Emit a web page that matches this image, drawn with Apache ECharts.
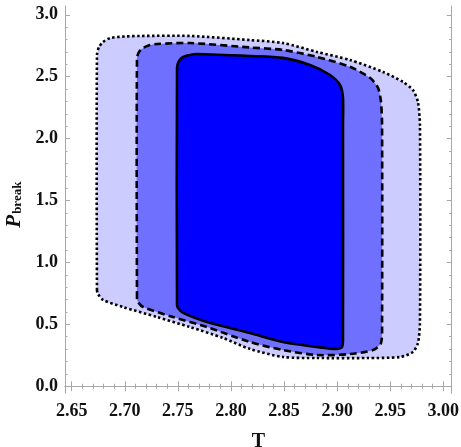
<!DOCTYPE html>
<html>
<head>
<meta charset="utf-8">
<script src="https://cdn.jsdelivr.net/npm/echarts@6/dist/echarts.min.js"></script>
<style>
  html, body { margin: 0; padding: 0; background: #fff; }
  #chart { width: 461px; height: 447px; }
</style>
</head>
<body>
<div id="chart"></div>
<script>
// contour regions (T, P_break)
const outerRegion = [
  [2.6738, 0.777], [2.6738, 2.675], [2.6757, 2.740], [2.6795, 2.780], [2.6861, 2.812],
  [2.7002, 2.825], [2.7143, 2.829], [2.7614, 2.829], [2.8179, 2.796], [2.8490, 2.772],
  [2.8810, 2.700], [2.9121, 2.635], [2.9432, 2.538], [2.9620, 2.458], [2.9714, 2.392],
  [2.9761, 2.296], [2.9780, 2.110], [2.9780, 0.511], [2.9761, 0.349], [2.9714, 0.277],
  [2.9592, 0.236], [2.9281, 0.228], [2.8810, 0.228], [2.8490, 0.236], [2.8179, 0.301],
  [2.7925, 0.390], [2.7614, 0.478], [2.7303, 0.559], [2.6983, 0.640], [2.6795, 0.697],
  [2.6748, 0.745]
];
const middleRegion = [
  [2.7115, 0.713], [2.7115, 2.651], [2.7134, 2.700], [2.7172, 2.732], [2.7237, 2.756],
  [2.7303, 2.764], [2.7614, 2.772], [2.8179, 2.736], [2.8490, 2.716], [2.8810, 2.660],
  [2.9121, 2.580], [2.9309, 2.491], [2.9385, 2.410], [2.9413, 2.296], [2.9423, 2.110],
  [2.9423, 0.511], [2.9413, 0.349], [2.9338, 0.292], [2.9121, 0.260], [2.8810, 0.252],
  [2.8490, 0.292], [2.8179, 0.357], [2.7774, 0.478], [2.7454, 0.559], [2.7172, 0.640],
  [2.7124, 0.680]
];
const innerRegion = [
  [2.7492, 0.656], [2.7492, 2.570], [2.7511, 2.627], [2.7549, 2.659], [2.7614, 2.675],
  [2.7680, 2.683], [2.8179, 2.667], [2.8490, 2.652], [2.8744, 2.595], [2.8933, 2.514],
  [2.9027, 2.433], [2.9055, 2.328], [2.9055, 2.110], [2.9055, 0.373], [2.9046, 0.317],
  [2.8999, 0.301], [2.8810, 0.317], [2.8490, 0.357], [2.8179, 0.430], [2.7774, 0.519],
  [2.7549, 0.592], [2.7501, 0.632]
];

const xTicks = [2.65, 2.70, 2.75, 2.80, 2.85, 2.90, 2.95, 3.00];
const yTicks = [0.0, 0.5, 1.0, 1.5, 2.0, 2.5, 3.0];
const xRange = [2.6437, 3.0079];
const yRange = [-0.057, 3.071];

// minor ticks: 4 between each pair of majors
function minorTicks(major, lo, hi) {
  const step = (major[1] - major[0]) / 5;
  const out = [];
  for (let v = major[0] - step * 5; v <= hi + 1e-9; v += step) {
    const r = Math.round(v * 1000) / 1000;
    if (r >= lo && r <= hi && !major.some((m) => Math.abs(m - r) < 1e-6)) out.push(r);
  }
  return out;
}
const xMinor = minorTicks(xTicks, xRange[0], xRange[1]);
const yMinor = minorTicks(yTicks, yRange[0], yRange[1]);

const frameColor = "#a8a8a8";
const labelFont = {
  fontFamily: "Liberation Serif",
  fontWeight: "bold",
  fontSize: 18,
  color: "#111",
};

function axisPair(kind, position, range, major, minor, withLabels, extra) {
  const common = { type: "value", position: position, min: range[0], max: range[1], splitLine: { show: false } };
  const main = Object.assign({}, common, {
    axisLine: { show: true, lineStyle: { color: frameColor, width: 1 } },
    axisTick: { show: true, inside: true, length: 5, customValues: major, lineStyle: { color: frameColor } },
    axisLabel: withLabels
      ? Object.assign({ show: true, customValues: major, margin: kind === "x" ? 9 : 7,
          formatter: (v) => v.toFixed(kind === "x" ? 2 : 1) }, labelFont)
      : { show: false },
  }, extra || {});
  const sub = Object.assign({}, common, {
    axisLine: { show: false },
    axisTick: { show: true, inside: true, length: 2.5, customValues: minor, lineStyle: { color: frameColor } },
    axisLabel: { show: false },
  });
  return [main, sub];
}

function regionSeries(points, fill, dash) {
  return {
    type: "custom",
    xAxisIndex: 0,
    yAxisIndex: 0,
    data: [0],
    renderItem: (params, api) => ({
      type: "polygon",
      shape: { points: points.map((p) => api.coord(p)), smooth: 0.25 },
      style: { fill: fill, stroke: "#000", lineWidth: 2.6, lineDash: dash, lineJoin: "round" },
    }),
  };
}

const chart = echarts.init(document.getElementById("chart"));
chart.setOption({
  animation: false,
  grid: { left: 65, right: 9.3, top: 6, bottom: 53.7, outerBoundsMode: "none", containLabel: false },
  xAxis: [
    ...axisPair("x", "bottom", xRange, xTicks, xMinor, true, {
      name: "T",
      nameLocation: "middle",
      nameGap: 39,
      nameTextStyle: { fontFamily: "Liberation Serif", fontWeight: "bold", fontSize: 20, color: "#111" },
    }),
    ...axisPair("x", "top", xRange, xTicks, xMinor, false),
  ],
  yAxis: [
    ...axisPair("y", "left", yRange, yTicks, yMinor, true, {
      name: "{p|P}{s|break}",
      nameLocation: "middle",
      nameGap: 39,
      nameTextStyle: {
        padding: [0, 10, 0, 0],
        rich: {
          p: { fontFamily: "Liberation Serif", fontStyle: "italic", fontWeight: "bold", fontSize: 21, color: "#111" },
          s: { fontFamily: "Liberation Serif", fontWeight: "bold", fontSize: 13, color: "#111",
               verticalAlign: "bottom", padding: [8, 0, 0, 1] },
        },
      },
    }),
    ...axisPair("y", "right", yRange, yTicks, yMinor, false),
  ],
  series: [
    regionSeries(outerRegion, "#ccccff", [2.5, 2.5]),
    regionSeries(middleRegion, "#7070ff", [7, 4]),
    regionSeries(innerRegion, "#0000ff", null),
  ],
});
window.addEventListener("resize", () => chart.resize());
</script>
</body>
</html>
